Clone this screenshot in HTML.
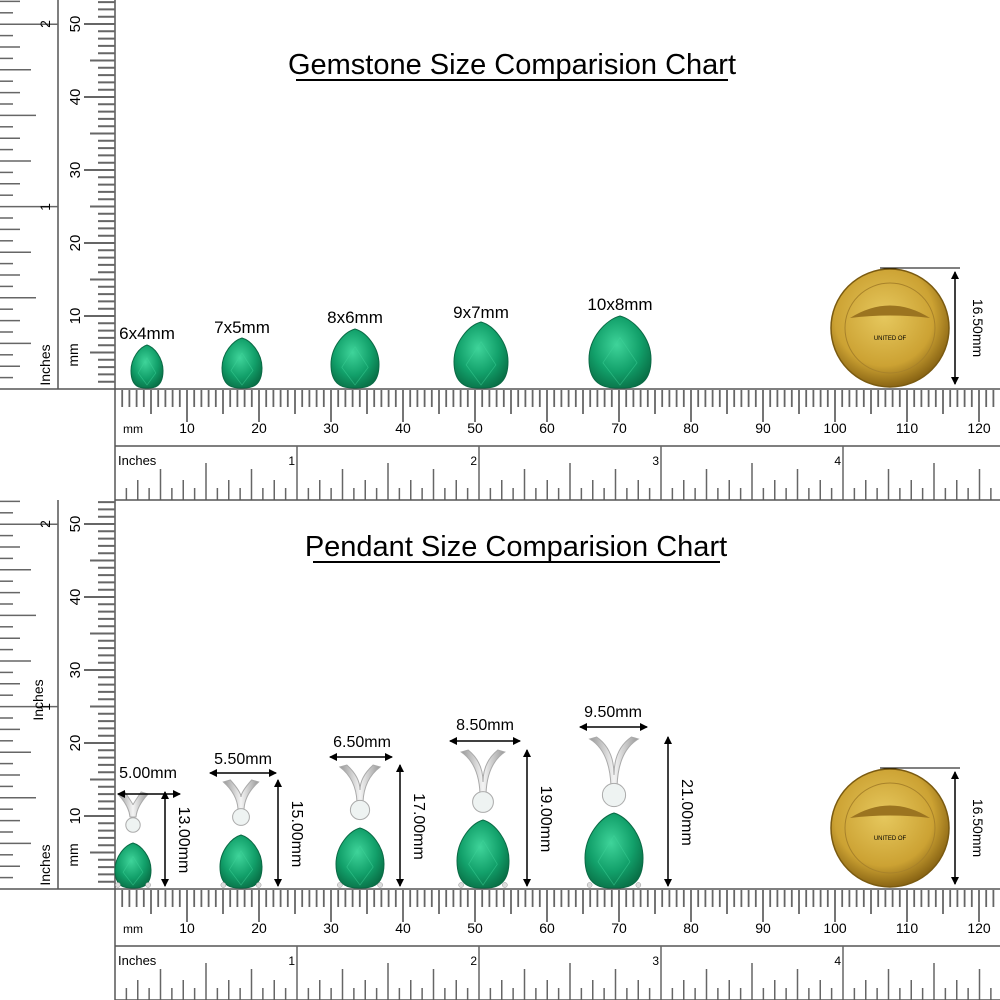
<!DOCTYPE html>
<html><head><meta charset="utf-8"><style>
body{margin:0;background:#fff;}
svg{display:block;font-family:"Liberation Sans",Arial,sans-serif;}
</style></head><body>
<svg id="s" width="1000" height="1000" viewBox="0 0 1000 1000" xmlns="http://www.w3.org/2000/svg">
<defs>
<radialGradient id="g" cx="45%" cy="40%" r="70%"><stop offset="0" stop-color="#3fd49a"/><stop offset="0.55" stop-color="#12a06a"/><stop offset="1" stop-color="#07663f"/></radialGradient>
<radialGradient id="c" cx="45%" cy="40%" r="60%"><stop offset="0" stop-color="#e6c85e"/><stop offset="0.7" stop-color="#cca233"/><stop offset="1" stop-color="#8a6514"/></radialGradient>
<linearGradient id="m" x1="0" x2="1"><stop offset="0" stop-color="#999"/><stop offset="0.5" stop-color="#f4f4f4"/><stop offset="1" stop-color="#999"/></linearGradient>
<marker id="ah" markerWidth="8" markerHeight="8" refX="7" refY="4" orient="auto-start-reverse" markerUnits="userSpaceOnUse"><path d="M0,0 L8,4 L0,8 z" fill="#000"/></marker>
</defs>
<g id="root"></g>
</svg>
<script>
var NS="http://www.w3.org/2000/svg",R=document.getElementById('root');
function el(t,a,txt){var e=document.createElementNS(NS,t);for(var k in a)e.setAttribute(k,a[k]);if(txt!=null)e.textContent=txt;R.appendChild(e);return e;}
function L(x1,y1,x2,y2,w,c){el('line',{x1:x1,y1:y1,x2:x2,y2:y2,stroke:c||'#555','stroke-width':w||1.5});}
function T(x,y,s,fs,rot,anc){var a={x:x,y:y,'font-size':fs,fill:'#000','text-anchor':anc||'middle'};if(rot)a.transform='rotate('+rot+' '+x+' '+y+')';el('text',a,s);}
function pear(cx,top,bot,w){var h=bot-top,r=w/2,cy=bot-h*0.4;
 var d='M'+cx+','+top+' C'+(cx+r*0.45)+','+(top+h*0.05)+' '+(cx+r)+','+(top+h*0.3)+' '+(cx+r)+','+cy+' C'+(cx+r)+','+(bot+h*0.02)+' '+(cx+r*0.3)+','+bot+' '+cx+','+bot+' C'+(cx-r*0.3)+','+bot+' '+(cx-r)+','+(bot+h*0.02)+' '+(cx-r)+','+cy+' C'+(cx-r)+','+(top+h*0.3)+' '+(cx-r*0.45)+','+(top+h*0.05)+' '+cx+','+top+'Z';
 el('path',{d:d,fill:'url(#g)',stroke:'#0a6a45','stroke-width':1});
 el('path',{d:'M'+(cx-r*0.55)+','+(cy+h*0.05)+' L'+cx+','+(top+h*0.3)+' L'+(cx+r*0.55)+','+(cy+h*0.05)+' L'+cx+','+(bot-3)+'Z',fill:'none',stroke:'#3fd49a','stroke-width':0.8,opacity:0.5});}
function coin(cx,cy,r){el('circle',{cx:cx,cy:cy,r:r,fill:'url(#c)',stroke:'#7a5a10','stroke-width':1.5});
 el('circle',{cx:cx,cy:cy,r:r-14,fill:'none',stroke:'#a8822a','stroke-width':1});
 el('path',{d:'M'+(cx-40)+','+(cy-10)+' Q'+cx+','+(cy-35)+' '+(cx+40)+','+(cy-10)+' Q'+cx+','+(cy-15)+' '+(cx-40)+','+(cy-10)+'Z',fill:'#9b7420'});
 T(cx,cy+12,'UNITED   OF',6);}
function panel(o){
 L(115,o,115,o+389,1.5,'#555');
 for(var i=1;i<=53;i++){var y=o+389-i*7.3;if(y<o)break;var len=i%10==0?31:(i%5==0?25:17);L(115-len,y,115,y,2,'#666');}
 for(var i=10;i<=50;i+=10)T(80,o+389-i*7.3,String(i),15,-90);
 T(78,o+355,'mm',14,-90);
 L(58,o,58,o+389,1.5,'#555');
 for(var i=1;i<=34;i++){var y=o+389-i*11.4;if(y<o)break;var len;if(i%16==0)len=58;else if(i%8==0)len=36;else if(i%4==0)len=31;else if(i%2==0)len=20;else len=13;L(0,y,len,y,1.5,'#666');}
 T(50,o+207,'1',14,-90);T(50,o+24,'2',14,-90);
 T(50,o+365,'Inches',14,-90);
 L(0,o+389,1000,o+389,1.5,'#555');
 L(115,o+389,115,o+500,1.5,'#555');
 for(var i=1;i<=122;i++){var x=115+i*7.2;if(x>1000)break;var len=i%10==0?32:(i%5==0?24:17);L(x,o+390,x,o+390+len,1.8,'#666');}
 for(var i=10;i<=120;i+=10)T(115+i*7.2,o+433,String(i),14);
 T(123,o+433,'mm',12,0,'start');
 L(115,o+446,1000,o+446,1.5,'#555');
 for(var i=1;i<=80;i++){var x=115+i*11.375;if(x>1000)break;var len;if(i%16==0)len=54;else if(i%8==0)len=37;else if(i%4==0)len=31;else if(i%2==0)len=20;else len=12;L(x,o+500-len,x,o+500,1.5,'#666');}
 L(115,o+500,1000,o+500,1.5,'#555');
 T(118,o+465,'Inches',13,0,'start');
 for(var k=1;k<=4;k++)T(115+k*182-2,o+465,String(k),12,0,'end');
 coin(890,o+328,59);
 L(880,o+268,960,o+268,1,'#000');
 el('line',{x1:955,y1:o+272,x2:955,y2:o+384,stroke:'#000','stroke-width':1.5,'marker-start':'url(#ah)','marker-end':'url(#ah)'});
 T(973,o+328,'16.50mm',14,90);
}
panel(0);panel(500);
T(43,700,'Inches',14,-90);
T(512,74,'Gemstone Size Comparision Chart',29);L(296,80,728,80,2,'#000');
T(516,556,'Pendant Size Comparision Chart',29);L(313,562,720,562,2,'#000');
var G=[[147,345,32,'6x4mm',333],[242,338,40,'7x5mm',327],[355,329,48,'8x6mm',317],[481,322,54,'9x7mm',312],[620,316,62,'10x8mm',304]];
G.forEach(function(g){pear(g[0],g[1],388,g[2]);T(g[0],g[4]+6,g[3],17);});
var P=[[133,843,36,'5.00mm',148,778,118,180,794,165,792,'13.00mm',795],
[241,835,42,'5.50mm',243,764,210,276,773,278,780,'15.00mm',778],
[360,828,48,'6.50mm',362,747,330,392,757,400,765,'17.00mm',760],
[483,820,52,'8.50mm',485,730,450,520,741,527,750,'19.00mm',745],
[614,813,58,'9.50mm',613,717,580,647,727,668,737,'21.00mm',730]];
P.forEach(function(p){var cx=p[0],top=p[1],w=p[2];
 var bt=p[10]+2, dy=top-18, bw=w*0.42, be=dy-8;
 el('path',{d:'M'+(cx-bw)+','+bt+' Q'+(cx-4)+','+(bt+12)+' '+(cx-3)+','+be+' L'+(cx+3)+','+be+' Q'+(cx+4)+','+(bt+12)+' '+(cx+bw)+','+bt+' L'+(cx+bw-7)+','+(bt-2)+' Q'+cx+','+(bt+10)+' '+cx+','+(be-12)+' Q'+cx+','+(bt+10)+' '+(cx-bw+7)+','+(bt-2)+'Z',fill:'url(#m)',stroke:'#aaa','stroke-width':1});
 el('circle',{cx:cx,cy:dy,r:w*0.2,fill:'#eef3f2',stroke:'#aaa','stroke-width':1});
 pear(cx,top,888,w);
 el('circle',{cx:cx-w*0.42,cy:885,r:2.5,fill:'#ddd',stroke:'#999','stroke-width':0.5});
 el('circle',{cx:cx+w*0.42,cy:885,r:2.5,fill:'#ddd',stroke:'#999','stroke-width':0.5});
 T(p[4],p[5],p[3],16);
 el('line',{x1:p[6],y1:p[8],x2:p[7],y2:p[8],stroke:'#000','stroke-width':1.5,'marker-start':'url(#ah)','marker-end':'url(#ah)'});
 el('line',{x1:p[9],y1:p[10],x2:p[9],y2:886,stroke:'#000','stroke-width':1.5,'marker-start':'url(#ah)','marker-end':'url(#ah)'});
 T(p[9]+14,(p[10]+888)/2,p[11],16,90);
});
</script>
</body></html>
